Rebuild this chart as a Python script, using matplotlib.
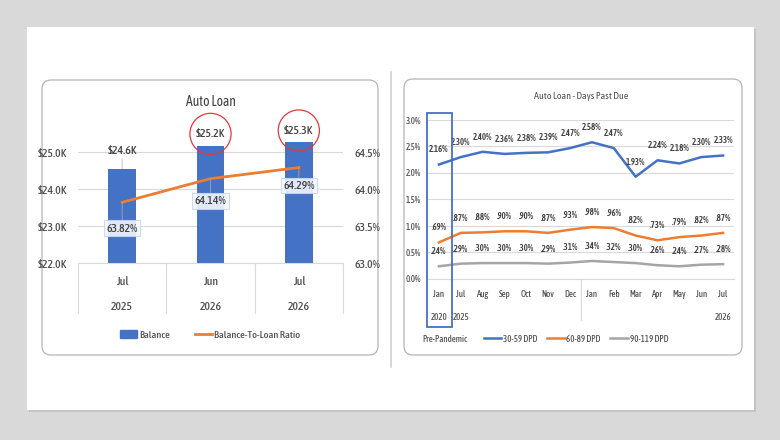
import numpy as np
import matplotlib
matplotlib.use("Agg")
import matplotlib.pyplot as plt
from matplotlib.patches import Rectangle, FancyBboxPatch, Patch
from matplotlib.lines import Line2D
from matplotlib.transforms import IdentityTransform

plt.rcParams['font.family'] = ['Asap Condensed', 'Carlito', 'DejaVu Sans']
plt.rcParams['font.weight'] = 500

# ---------------------------------------------------------------------------
# Left chart data
periods = ["Jul", "Jun", "Jul"]
period_years = ["2025", "2026", "2026"]
balance = [24.55, 25.17, 25.28]          # $K
ratio = [63.82, 64.14, 64.29]            # %

# Right chart data
months = ["Jan", "Jul", "Aug", "Sep", "Oct", "Nov", "Dec",
          "Jan", "Feb", "Mar", "Apr", "May", "Jun", "Jul"]
year_marks = {0: "2020", 1: "2025", 13: "2026"}
dpd_30 = [2.16, 2.30, 2.40, 2.36, 2.38, 2.39, 2.47, 2.58, 2.47, 1.93, 2.24, 2.18, 2.30, 2.33]
dpd_60 = [0.69, 0.87, 0.88, 0.90, 0.90, 0.87, 0.93, 0.98, 0.96, 0.82, 0.73, 0.79, 0.82, 0.87]
dpd_90 = [0.24, 0.29, 0.30, 0.30, 0.30, 0.29, 0.31, 0.34, 0.32, 0.30, 0.26, 0.24, 0.27, 0.28]

BLUE = "#4472C4"
ORANGE = "#ED7D31"
GRAY = "#A5A5A5"
TXT = "#505050"
DARK = "#404040"
GRID = "#d9d9d9"

W, H = 780, 440

def fx(px):
  return px / W

def fy(py):
  return 1 - py / H

def axrect(x0, y0, x1, y1):
  return [fx(x0), fy(y1), (x1 - x0) / W, (y1 - y0) / H]

fig = plt.figure(figsize=(7.8, 4.4), dpi=100)
fig.patch.set_facecolor("#d9d9d9")

# slide + shadow (behind the axes)
fig.add_artist(Rectangle((29, H - 412), 727, 383, transform=IdentityTransform(),
                         fc="#c4c4c4", ec="none", zorder=-10))
fig.add_artist(Rectangle((27, H - 410), 727, 383, transform=IdentityTransform(),
                         fc="white", ec="none", zorder=-9))

# chart frames
for (x0, y0, x1, y1) in [(42, 80, 378, 355), (404, 79, 742, 355)]:
  fig.add_artist(FancyBboxPatch((x0, H - y1), x1 - x0, y1 - y0,
                                boxstyle="round,pad=0,rounding_size=9",
                                transform=IdentityTransform(),
                                fc="white", ec="#b5b5b5", lw=0.9, zorder=-8))

# separator
fig.add_artist(Line2D([fx(391), fx(391)], [fy(72), fy(367)],
                      color="#d0d0d0", lw=1.2, zorder=-7))

# ---------------------------------------------------------------------------
# Left: Auto Loan
FS1 = 8.5
ax1 = fig.add_axes(axrect(78, 118.7, 343, 263))
ax1.patch.set_visible(False)
x = np.arange(len(periods))
ax1.bar(x, balance, width=0.31, color=BLUE, zorder=2)
ax1.set_xlim(-0.5, 2.5)
ax1.set_ylim(22, 25.9)
ax1.set_yticks([22, 23, 24, 25])
ax1.set_yticklabels(["$%.1fK" % v for v in [22, 23, 24, 25]])
ax1.set_xticks([])
ax1.yaxis.grid(True, color=GRID, lw=0.8)
ax1.set_axisbelow(True)
for s in ["top", "left", "right"]:
  ax1.spines[s].set_visible(False)
ax1.spines["bottom"].set_color(GRID)
ax1.tick_params(axis="y", length=0, labelsize=FS1, colors=TXT, pad=8)

# category axis
xt = ax1.get_xaxis_transform()
for b in [-0.5, 0.5, 1.5, 2.5]:
  ax1.plot([b, b], [0, -0.346], transform=xt, color=GRID, lw=0.8, clip_on=False)
for i in range(len(periods)):
  ax1.text(i, -0.125, periods[i], transform=xt, ha="center", va="center",
           fontsize=FS1, color=TXT)
  ax1.text(i, -0.298, period_years[i], transform=xt, ha="center", va="center",
           fontsize=FS1, color=TXT)

# bar labels
bar_offsets = [13, 8.5, 8]
for i, v in enumerate(balance):
  kw = {}
  if i > 0:
    kw["bbox"] = dict(boxstyle="circle,pad=0.5", fc="none", ec="#e5383b", lw=0.9)
  ax1.annotate("$%.1fK" % v, (i, v), xytext=(0, bar_offsets[i]),
               textcoords="offset points", ha="center", va="center",
               fontsize=FS1, color=DARK, annotation_clip=False,
               arrowprops=dict(arrowstyle="-", color="#bfbfbf", lw=0.6,
                               shrinkA=0, shrinkB=0) if i == 0 else None,
               **kw)

ax1r = ax1.twinx()
ax1r.plot(x, ratio, color=ORANGE, lw=2, zorder=3)
ax1r.set_ylim(63, 64.95)
ax1r.set_yticks([63, 63.5, 64, 64.5])
ax1r.set_yticklabels(["%.1f%%" % v for v in [63, 63.5, 64, 64.5]])
for s in ["top", "left", "right", "bottom"]:
  ax1r.spines[s].set_visible(False)
ax1r.tick_params(axis="y", length=0, labelsize=FS1, colors=TXT, pad=8)

ratio_offsets = [-18.5, -16, -13]
for i, v in enumerate(ratio):
  ax1r.annotate("%.2f%%" % v, (i, v), xytext=(0, ratio_offsets[i]),
                textcoords="offset points", ha="center", va="center",
                fontsize=FS1, color=DARK,
                bbox=dict(boxstyle="square,pad=0.2", fc="#f4f7fc", ec="#c9d6ee",
                          lw=0.8, alpha=0.9),
                arrowprops=dict(arrowstyle="-", color="#a6a6a6", lw=0.6,
                                shrinkA=0, shrinkB=0))

ax1.set_title("Auto Loan", fontsize=9.8, color=DARK, pad=0, y=1.085)

fig.legend([Patch(color=BLUE), Line2D([], [], color=ORANGE, lw=2)],
           ["Balance", "Balance-To-Loan Ratio"],
           loc="center", bbox_to_anchor=(fx(210), fy(335)), ncol=2,
           frameon=False, fontsize=7.5, handlelength=1.6, handleheight=0.7,
           handletextpad=0.2, columnspacing=2.4, labelcolor=TXT)

# ---------------------------------------------------------------------------
# Right: Days Past Due
FS2 = 6.3
ax2 = fig.add_axes(axrect(428, 120, 734, 279))
ax2.patch.set_visible(False)
xm = np.arange(len(months))
series = [(dpd_30, BLUE, "30-59 DPD"), (dpd_60, ORANGE, "60-89 DPD"),
          (dpd_90, GRAY, "90-119 DPD")]
for vals, col, name in series:
  ax2.plot(xm, vals, color=col, lw=1.8, label=name, zorder=3)
  for i, v in enumerate(vals):
    s = "%.2f%%" % v
    if v < 1:
      s = s.lstrip("0")
    ax2.annotate(s, (i, v), xytext=(0, 10.5), textcoords="offset points",
                 ha="center", va="center", fontsize=FS2, color=DARK,
                 fontweight=600)

ax2.set_xlim(-0.5, 13.5)
ax2.set_ylim(0, 3.0)
ax2.set_yticks(np.arange(0, 3.01, 0.5))
ax2.set_yticklabels(["%.1f%%" % v for v in np.arange(0, 3.01, 0.5)])
ax2.set_xticks([])
ax2.yaxis.grid(True, color=GRID, lw=0.8)
ax2.set_axisbelow(True)
for s in ["top", "left", "right"]:
  ax2.spines[s].set_visible(False)
ax2.spines["bottom"].set_color(GRID)
ax2.tick_params(axis="y", length=0, labelsize=FS2, colors=TXT, pad=5)

xt2 = ax2.get_xaxis_transform()
ax2.plot([6.5, 6.5], [0, -0.258], transform=xt2, color=GRID, lw=0.8, clip_on=False)
for i, m in enumerate(months):
  ax2.text(i, -0.1, m, transform=xt2, ha="center", va="center",
           fontsize=FS2, color=TXT)
for i, yr in year_marks.items():
  ax2.text(i, -0.239, yr, transform=xt2, ha="center", va="center",
           fontsize=FS2, color=TXT)

ax2.add_patch(Rectangle((-0.55, -0.302), 1.15, 1.346, transform=xt2,
                        fill=False, ec=BLUE, lw=1.3, clip_on=False, zorder=4))

ax2.set_title("Auto Loan - Days Past Due", fontsize=7.2, color=TXT, pad=0, y=1.13)

fig.text(fx(422), fy(339), "Pre-Pandemic", ha="left", va="center",
         fontsize=FS2, color=TXT)
fig.legend([Line2D([], [], color=c, lw=1.8) for _, c, _ in series],
           [n for _, _, n in series],
           loc="center", bbox_to_anchor=(fx(576), fy(339)), ncol=3,
           frameon=False, fontsize=FS2, handlelength=2.0,
           handletextpad=0.2, columnspacing=1.1, labelcolor=TXT)

fig.savefig("out.png", dpi=100, facecolor=fig.get_facecolor())
